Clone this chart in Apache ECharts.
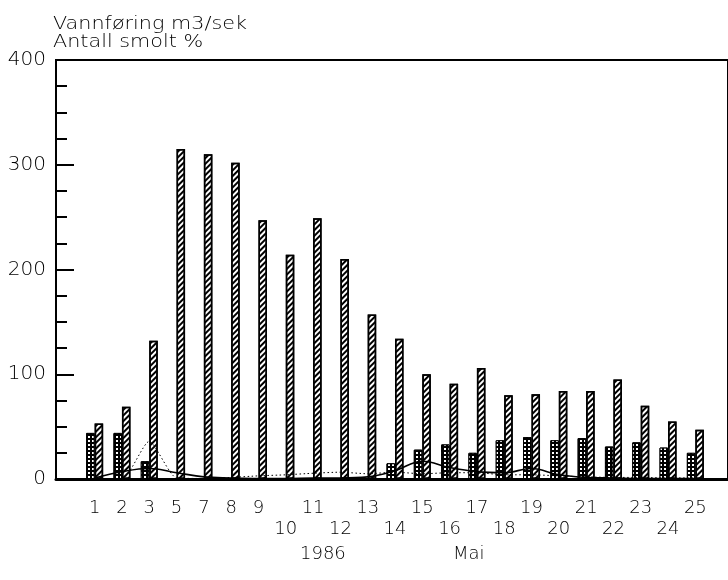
<!DOCTYPE html>
<html><head><meta charset="utf-8">
<script src="https://cdn.jsdelivr.net/npm/echarts@6/dist/echarts.min.js"></script>
<style>html,body{margin:0;padding:0;background:#fff}#c{width:728px;height:580px}</style>
</head><body><div id="c"></div>
<script>
// Days in May 1986 (4 and 6 are missing in the original)
const days = ['1','2','3','5','7','8','9','10','11','12','13','14','15','16','17','18','19','20','21','22','23','24','25'];
// Hatched bars: Vannføring m3/sek
const vannforing = [53, 69, 132, 315, 310, 302, 247, 214, 249, 210, 157, 134, 100, 91, 106, 80, 81, 84, 84, 95, 70, 55, 47];
// Dotted bars: Antall smolt %
const smolt = [44, 44, 17, 0, 0, 0, 0, 0, 0, 0, 0, 15, 28, 33, 25, 37, 40, 37, 39, 31, 35, 30, 25];
// Solid curve
const solidLine = [1, 7, 10, 6, 2, 1, 0.5, 0.5, 1, 1, 2, 8, 17, 11, 7, 6, 10, 4, 1.5, 1, 0.5, 0.5, 0.5];
// Dotted curve
const dottedLine = [0, 0, 36, 1, 0.5, 1.5, 3, 4, 5.5, 6.5, 5, 6.5, 5, 6, 6, 4, 4, 3, 2, 1.5, 1.5, 1, 1];
const yMin = 0, yMax = 400, yStep = 100;
const titleLines = ['Vannføring m3/sek', 'Antall smolt %'];
const yearText = '1986', monthText = 'Mai';

const FONT = 'DejaVu Sans';
const chart = echarts.init(document.getElementById('c'), null, {renderer: 'canvas'});
chart.setOption({
  animation: false,
  backgroundColor: '#fff',
  grid: [
    {left: 56, right: -6, top: 60, bottom: 101, show: true, borderColor: '#000', borderWidth: 2, backgroundColor: 'transparent'},
    {left: 81, right: 19, top: 60, bottom: 101}
  ],
  xAxis: [
    {gridIndex: 0, type: 'value', min: 0, max: 1, show: true,
     axisLine: {show: true, lineStyle: {color: '#000', width: 3}}, axisTick: {show: false},
     axisLabel: {show: false}, splitLine: {show: false}},
    {gridIndex: 1, type: 'category', data: days, boundaryGap: true,
     axisLine: {show: false}, axisTick: {show: false},
     axisLabel: {interval: 0, color: '#000', fontFamily: FONT, fontSize: 18, fontWeight: 200,
       margin: 19, lineHeight: 21,
       formatter: function (v) { const n = +v; return (n >= 10 && n % 2 === 0) ? '\n' + v : v + '\n'; }}}
  ],
  yAxis: [
    {gridIndex: 0, type: 'value', min: yMin, max: yMax, interval: yStep,
     axisLine: {show: true, lineStyle: {color: '#000', width: 2}},
     axisTick: {show: true, inside: true, length: 18, lineStyle: {color: '#000', width: 2}},
     minorTick: {show: true, splitNumber: 4, length: 11, lineStyle: {color: '#000', width: 2}},
     splitLine: {show: false},
     axisLabel: {color: '#000', fontFamily: FONT, fontSize: 20, fontWeight: 200, margin: 10}},
    {gridIndex: 1, type: 'value', min: yMin, max: yMax, show: false}
  ],
  series: [
    {name: 'Antall smolt %', type: 'bar', xAxisIndex: 1, yAxisIndex: 1, data: smolt,
     barWidth: 8.5, barGap: '0%',
     itemStyle: {color: '#000', borderColor: '#000', borderWidth: 1,
       decal: {symbol: 'rect', symbolSize: 1, color: '#fff', dashArrayX: [1.5, 1.5], dashArrayY: [1.5, 1.5], rotation: 0}}},
    {name: 'Vannføring m3/sek', type: 'bar', xAxisIndex: 1, yAxisIndex: 1, data: vannforing,
     barWidth: 8.5, barGap: '0%',
     itemStyle: {color: '#fff', borderColor: '#000', borderWidth: 1.5,
       decal: {symbol: 'rect', symbolSize: 1, color: '#000', dashArrayX: [1, 0], dashArrayY: [1.6, 1.7], rotation: -Math.PI / 4}}},
    {name: 'solid', type: 'line', xAxisIndex: 1, yAxisIndex: 1, data: solidLine, smooth: 0.4,
     symbol: 'none', lineStyle: {color: '#000', width: 1.6}, z: 5},
    {name: 'dotted', type: 'line', xAxisIndex: 1, yAxisIndex: 1, data: dottedLine, smooth: 0.2,
     symbol: 'none', lineStyle: {color: '#000', width: 1, type: [1.5, 2.5]}, z: 5}
  ],
  graphic: [
    {type: 'text', left: 53, top: 16, style: {text: titleLines[0], font: '200 17px "' + FONT + '"', fill: '#000'}, scaleX: 1.22},
    {type: 'text', left: 53, top: 34, style: {text: titleLines[1], font: '200 17px "' + FONT + '"', fill: '#000'}, scaleX: 1.22},
    {type: 'text', left: 300, top: 545, style: {text: yearText, font: '200 18px "' + FONT + '"', fill: '#000'}},
    {type: 'text', left: 453, top: 545, style: {text: monthText, font: '200 18px "' + FONT + '"', fill: '#000'}}
  ]
});
</script></body></html>
